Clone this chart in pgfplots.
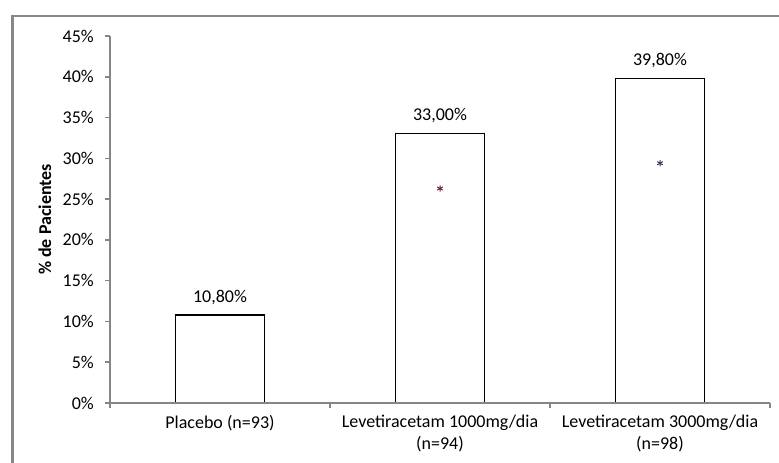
\documentclass[border=0pt]{standalone}
\usepackage{pgfplots}
\pgfplotsset{compat=1.18}
\usepackage{fontspec}
\setmainfont{Carlito}
\definecolor{axgray}{RGB}{134,134,134}
\definecolor{framegray}{RGB}{136,136,136}
\definecolor{astred}{RGB}{110,40,55}
\definecolor{astblue}{RGB}{55,60,105}
\begin{document}
\begin{tikzpicture}
\useasboundingbox (0pt,0pt) rectangle (779pt,463pt);
\draw[framegray, line width=2.5pt] (12.3pt,-10pt) -- (12.3pt,446.8pt) -- (790pt,446.8pt);
\begin{axis}[
  at={(110pt,60pt)}, anchor=south west,
  scale only axis, width=660pt, height=367pt,
  xmin=-0.5, xmax=2.5, ymin=0, ymax=45,
  clip=false, axis on top,
  axis x line*=bottom, axis y line*=left,
  axis line style={axgray, line width=1.5pt, -},
  tick style={axgray, line width=1.5pt},
  major tick length=5pt, tick align=outside,
  /pgf/number format/assume math mode=true,
  ytick={0,5,10,15,20,25,30,35,40,45},
  yticklabels={0\%,5\%,10\%,15\%,20\%,25\%,30\%,35\%,40\%,45\%},
  yticklabel style={font=\fontsize{18}{22}\selectfont, inner sep=0pt, anchor=east, xshift=-11pt},
  xtick={-0.5,0.5,1.5,2.5},
  xticklabels={},
  extra x ticks={0,1,2},
  extra x tick labels={Placebo (n=93),Levetiracetam 1000mg/dia\\(n=94),Levetiracetam 3000mg/dia\\(n=98)},
  extra x tick style={major tick length=0pt, xticklabel style={font=\fontsize{18}{22}\selectfont, align=center, anchor=north, inner sep=0pt, yshift=-12pt}},
  ylabel={\% de Pacientes},
  ylabel style={font=\fontsize{18}{22}\selectfont\bfseries, at={(axis description cs:-0.0985,0.5)}, rotate=0, anchor=center, inner sep=0pt},
]
\addplot[ybar, bar shift=0pt, bar width=89pt, fill=white, draw=black, line width=1.2pt,
  nodes near coords={\pgfmathprintnumber[fixed,fixed zerofill,precision=2,use comma]{\pgfplotspointmeta}\%},
  every node near coord/.append style={font=\fontsize{18}{22}\selectfont, black, anchor=south, inner sep=0pt, yshift=10pt}]
  coordinates {(0,10.8) (1,33.0) (2,39.8)};
\addplot[only marks, mark=asterisk, mark size=3.2pt, astred, mark options={line width=1pt}] coordinates {(1,26.3)};
\addplot[only marks, mark=asterisk, mark size=3.2pt, astblue, mark options={line width=1pt}] coordinates {(2,29.4)};
\end{axis}
\end{tikzpicture}
\end{document}
